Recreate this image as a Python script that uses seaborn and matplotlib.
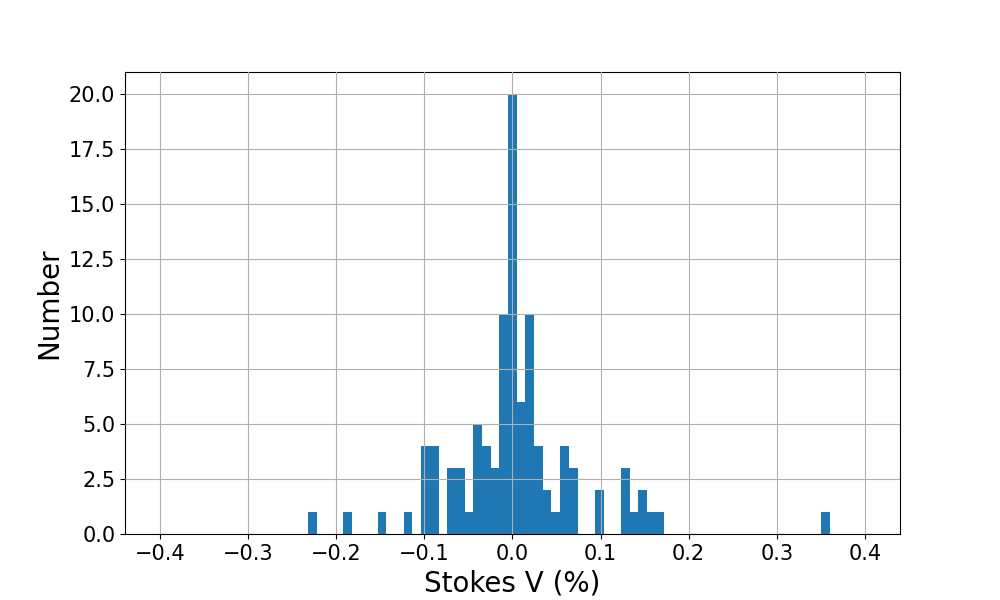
import numpy as np
import pandas as pd
import matplotlib
matplotlib.use("Agg")
import matplotlib.pyplot as plt
import seaborn as sns

# -----------------------------
# DATA (60 equal bins between min and max of Stokes V, in %)
# -----------------------------
v_min = -0.232
v_max = 0.360
n_bins = 60

counts = [1, 0, 0, 0, 1, 0, 0, 0, 1, 0,
          0, 1, 0, 4, 4, 0, 3, 3, 1, 5,
          4, 3, 10, 20, 6, 10, 4, 2, 1, 4,
          3, 0, 0, 2, 0, 0, 3, 1, 2, 1,
          1, 0, 0, 0, 0, 0, 0, 0, 0, 0,
          0, 0, 0, 0, 0, 0, 0, 0, 0, 1]

edges = np.linspace(v_min, v_max, n_bins + 1)
centers = (edges[:-1] + edges[1:]) / 2
df = pd.DataFrame({"Stokes V (%)": centers, "count": counts})

# -----------------------------
# PLOT
# -----------------------------
fig, ax = plt.subplots(figsize=(10, 6), dpi=100)
sns.histplot(
    data=df,
    x="Stokes V (%)",
    weights="count",
    bins=n_bins,
    binrange=(v_min, v_max),
    color="#1f77b4",
    alpha=1,
    linewidth=0,
    ax=ax,
)
ax.set_axisbelow(False)
ax.grid(True, color="#b0b0b0", linewidth=0.8)
ax.set_xlim(-0.44, 0.44)
ax.set_ylim(0, 21)
ax.set_xticks(np.arange(-0.4, 0.41, 0.1))
ax.set_yticks(np.arange(0, 20.1, 2.5))
ax.set_xlabel("Stokes V (%)", fontsize=20)
ax.set_ylabel("Number", fontsize=20)
ax.tick_params(labelsize=15)

plt.savefig("out.png")
